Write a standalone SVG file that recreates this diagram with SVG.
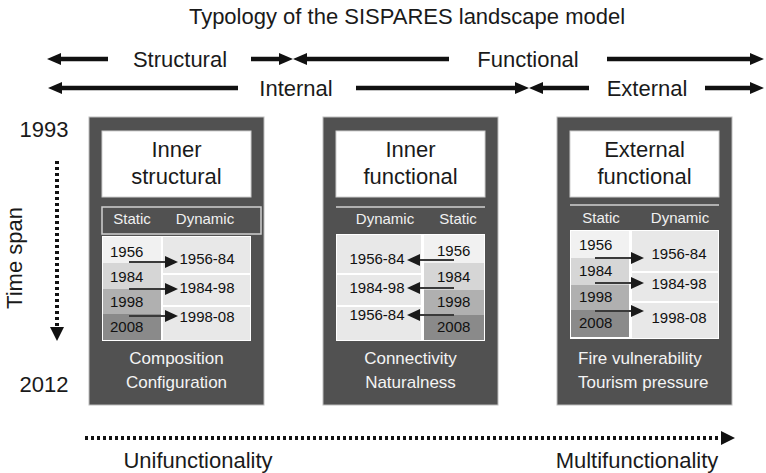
<svg xmlns="http://www.w3.org/2000/svg" width="766" height="473" viewBox="0 0 766 473">
<defs>
<style>
text{font-family:"Liberation Sans",Arial,sans-serif;}
.lbl{font-size:22px;fill:#1a1a1a;}
.ttl{font-size:22px;fill:#1a1a1a;text-anchor:middle;}
.panel{fill:#515151;stroke:#bdbdbd;stroke-width:1;}
.tbox{fill:#ffffff;stroke:#cfcfcf;stroke-width:1;}
.tboxt{font-size:22px;fill:#1a1a1a;text-anchor:middle;}
.hd{font-size:15px;fill:#f0f0f0;text-anchor:middle;}
.body{fill:#ffffff;}
.dyn{fill:#e8e8e8;}
.c1{fill:#f1f1f1;}
.c2{fill:#d6d6d6;}
.c3{fill:#b0b0b0;}
.c4{fill:#8a8a8a;}
.yr{font-size:15px;fill:#111;}
.dy{font-size:15px;fill:#111;text-anchor:middle;}
.ft{font-size:17px;fill:#f4f4f4;}
.big{stroke:#111;stroke-width:4.5;fill:none;}
.sm{stroke:#3a3a3a;stroke-width:2;fill:none;}
.dot{stroke:#111;stroke-width:4;stroke-dasharray:3 3;fill:none;}
</style>
<marker id="bh" viewBox="0 0 14 12" refX="0" refY="6" markerWidth="14" markerHeight="12" markerUnits="userSpaceOnUse" orient="auto">
<path d="M0,0 L14,6 L0,12 z" fill="#111"/>
</marker>
<marker id="sh" viewBox="0 0 13 12" refX="0" refY="6" markerWidth="13" markerHeight="12" markerUnits="userSpaceOnUse" orient="auto">
<path d="M0,0 L13,6 L0,12 z" fill="#1a1a1a"/>
</marker>
<marker id="dh" viewBox="0 0 14 14" refX="0" refY="7" markerWidth="14" markerHeight="14" markerUnits="userSpaceOnUse" orient="auto">
<path d="M0,0 L14,7 L0,14 z" fill="#111"/>
</marker>
</defs>
<rect width="766" height="473" fill="#ffffff"/>

<text class="ttl" x="407" y="24">Typology of the SISPARES landscape model</text>

<g id="axis-labels">
<text class="lbl" x="180" y="67" text-anchor="middle">Structural</text>
<text class="lbl" x="528" y="67" text-anchor="middle">Functional</text>
<text class="lbl" x="296" y="96" text-anchor="middle">Internal</text>
<text class="lbl" x="647" y="96" text-anchor="middle">External</text>
<text class="lbl" x="44" y="137" text-anchor="middle">1993</text>
<text class="lbl" x="44" y="392" text-anchor="middle">2012</text>
<text class="lbl" x="0" y="0" text-anchor="middle" transform="translate(22,258) rotate(-90)">Time span</text>
<text class="lbl" x="198" y="468" text-anchor="middle">Unifunctionality</text>
<text class="lbl" x="637" y="468" text-anchor="middle">Multifunctionality</text>
</g>

<g id="connectors">
<line class="big" x1="108" y1="59" x2="61" y2="59" marker-end="url(#bh)"/>
<line class="big" x1="251" y1="59" x2="279" y2="59" marker-end="url(#bh)"/>
<line class="big" x1="449" y1="59" x2="307" y2="59" marker-end="url(#bh)"/>
<line class="big" x1="607" y1="59" x2="750" y2="59" marker-end="url(#bh)"/>
<line class="big" x1="238" y1="88" x2="62" y2="88" marker-end="url(#bh)"/>
<line class="big" x1="356" y1="88" x2="515" y2="88" marker-end="url(#bh)"/>
<line class="big" x1="589" y1="88" x2="543" y2="88" marker-end="url(#bh)"/>
<line class="big" x1="705" y1="88" x2="750" y2="88" marker-end="url(#bh)"/>
<line class="dot" x1="57" y1="161" x2="57" y2="327" marker-end="url(#dh)"/>
<line class="dot" x1="85" y1="438" x2="721" y2="438" marker-end="url(#dh)"/>
</g>

<g id="panel-inner-structural">
<rect class="panel" x="89" y="117" width="175" height="288"/>
<rect class="tbox" x="102" y="131" width="149" height="66"/>
<text class="tboxt" x="176.5" y="157">Inner</text>
<text class="tboxt" x="176.5" y="184">structural</text>
<rect x="102" y="207" width="159" height="27" fill="none" stroke="#cfcfcf" stroke-width="1.5"/>
<text class="hd" x="132" y="224">Static</text>
<text class="hd" x="205" y="224">Dynamic</text>
<rect class="body" x="102" y="236" width="149" height="105"/>
<rect class="c1" x="103" y="237" width="58" height="26"/>
<rect class="c2" x="103" y="263" width="58" height="26"/>
<rect class="c3" x="103" y="289" width="58" height="25"/>
<rect class="c4" x="103" y="314" width="58" height="26"/>
<rect class="dyn" x="163" y="237" width="87" height="36"/>
<rect class="dyn" x="163" y="275" width="87" height="30"/>
<rect class="dyn" x="163" y="307" width="87" height="33"/>
<text class="yr" x="110" y="257">1956</text>
<text class="yr" x="110" y="282">1984</text>
<text class="yr" x="110" y="307">1998</text>
<text class="yr" x="110" y="332">2008</text>
<text class="dy" x="207" y="264">1956-84</text>
<text class="dy" x="207" y="293">1984-98</text>
<text class="dy" x="207" y="322">1998-08</text>
<line class="sm" x1="129" y1="262" x2="165" y2="262" marker-end="url(#sh)"/>
<line class="sm" x1="129" y1="289" x2="165" y2="289" marker-end="url(#sh)"/>
<line class="sm" x1="129" y1="316" x2="165" y2="316" marker-end="url(#sh)"/>
<text class="ft" x="176.5" y="364" text-anchor="middle">Composition</text>
<text class="ft" x="176.5" y="388" text-anchor="middle">Configuration</text>
</g>

<g id="panel-inner-functional">
<rect class="panel" x="323" y="117" width="175" height="288"/>
<rect class="tbox" x="336" y="131" width="149" height="66"/>
<text class="tboxt" x="410.5" y="157">Inner</text>
<text class="tboxt" x="410.5" y="184">functional</text>
<line x1="336" y1="207" x2="485" y2="207" stroke="#d0d0d0" stroke-width="1.5"/>
<text class="hd" x="385" y="224">Dynamic</text>
<text class="hd" x="458" y="224">Static</text>
<rect class="body" x="336" y="234" width="149" height="107"/>
<rect class="dyn" x="337" y="235" width="84" height="38"/>
<rect class="dyn" x="337" y="275" width="84" height="30"/>
<rect class="dyn" x="337" y="307" width="84" height="33"/>
<rect class="c1" x="424" y="235" width="60" height="28"/>
<rect class="c2" x="424" y="263" width="60" height="27"/>
<rect class="c3" x="424" y="290" width="60" height="25"/>
<rect class="c4" x="424" y="315" width="60" height="25"/>
<text class="dy" x="377" y="264">1956-84</text>
<text class="dy" x="377" y="293">1984-98</text>
<text class="dy" x="377" y="320">1956-84</text>
<text class="yr" x="437" y="256">1956</text>
<text class="yr" x="437" y="282">1984</text>
<text class="yr" x="437" y="307">1998</text>
<text class="yr" x="437" y="332">2008</text>
<line class="sm" x1="454" y1="260" x2="420" y2="260" marker-end="url(#sh)"/>
<line class="sm" x1="454" y1="288" x2="420" y2="288" marker-end="url(#sh)"/>
<line class="sm" x1="454" y1="315" x2="420" y2="315" marker-end="url(#sh)"/>
<text class="ft" x="410.5" y="364" text-anchor="middle">Connectivity</text>
<text class="ft" x="410.5" y="388" text-anchor="middle">Naturalness</text>
</g>

<g id="panel-external-functional">
<rect class="panel" x="557" y="117" width="175" height="288"/>
<rect class="tbox" x="570" y="131" width="149" height="66"/>
<text class="tboxt" x="644.5" y="157">External</text>
<text class="tboxt" x="644.5" y="184">functional</text>
<line x1="570" y1="205" x2="719" y2="205" stroke="#d0d0d0" stroke-width="1.5"/>
<text class="hd" x="601" y="223">Static</text>
<text class="hd" x="680" y="223">Dynamic</text>
<rect class="body" x="570" y="230" width="149" height="109"/>
<rect class="c1" x="571" y="231" width="58" height="27"/>
<rect class="c2" x="571" y="258" width="58" height="27"/>
<rect class="c3" x="571" y="285" width="58" height="25"/>
<rect class="c4" x="571" y="310" width="58" height="27"/>
<rect class="dyn" x="632" y="231" width="86" height="40"/>
<rect class="dyn" x="632" y="273" width="86" height="28"/>
<rect class="dyn" x="632" y="303" width="86" height="35"/>
<text class="yr" x="579" y="250">1956</text>
<text class="yr" x="579" y="276">1984</text>
<text class="yr" x="579" y="302">1998</text>
<text class="yr" x="579" y="328">2008</text>
<text class="dy" x="679" y="259">1956-84</text>
<text class="dy" x="679" y="289">1984-98</text>
<text class="dy" x="679" y="323">1998-08</text>
<line class="sm" x1="595" y1="258" x2="631" y2="258" marker-end="url(#sh)"/>
<line class="sm" x1="595" y1="283" x2="631" y2="283" marker-end="url(#sh)"/>
<line class="sm" x1="595" y1="311" x2="631" y2="311" marker-end="url(#sh)"/>
<text class="ft" x="578" y="364">Fire vulnerability</text>
<text class="ft" x="578" y="388">Tourism pressure</text>
</g>
</svg>
